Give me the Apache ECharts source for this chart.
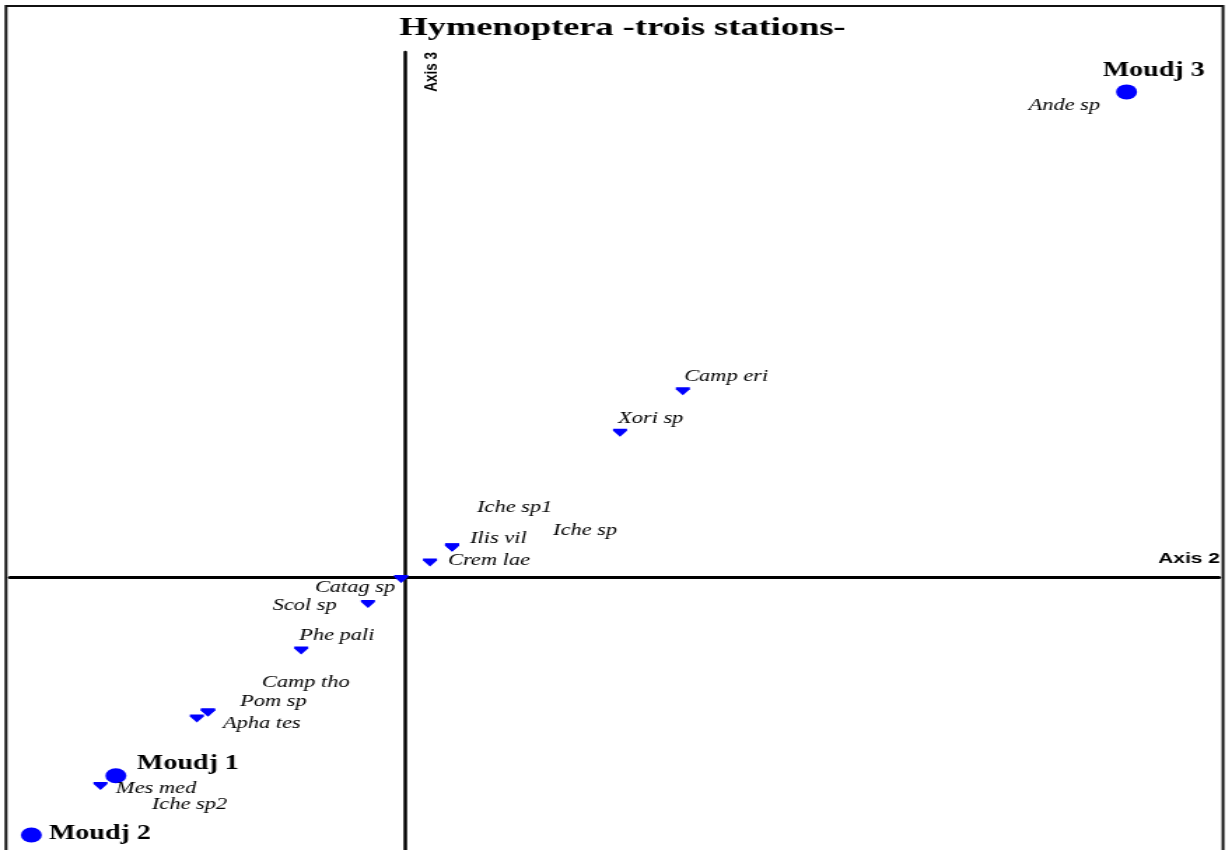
<!DOCTYPE html>
<html>
<head>
<meta charset="utf-8">
<title>Hymenoptera -trois stations-</title>
<script src="https://cdn.jsdelivr.net/npm/echarts@6/dist/echarts.min.js"></script>
<style>
  html, body { margin: 0; padding: 0; background: #fff; overflow: hidden; }
  /* The plot is laid out at 878px wide and stretched horizontally to fill the page */
  #chart {
    position: absolute; left: 0; top: 0;
    width: 878px; height: 850px;
    transform: scaleX(1.4); transform-origin: 0 0;
  }
</style>
</head>
<body>
<div id="chart"></div>
<script>
// Horizontal stretch applied to the whole plot
const STRETCH = 1.4;

// Species coordinates on axes 2 and 3
const speciesNames = ['Camp eri', 'Xori sp', 'Iche sp1', 'Iche sp', 'Ilis vil', 'Crem lae', 'Catag sp',
  'Scol sp', 'Phe pali', 'Camp tho', 'Pom sp', 'Apha tes', 'Mes med', 'Iche sp2', 'Ande sp'];
const speciesAxis2 = [0.703, 0.544, 0.119, 0.119, 0.119, 0.063, -0.010,
  -0.094, -0.263, -0.499, -0.499, -0.527, -0.771, -0.732, 1.826];
const speciesAxis3 = [0.471, 0.366, 0.076, 0.076, 0.076, 0.038, -0.004,
  -0.067, -0.185, -0.342, -0.342, -0.357, -0.528, -0.502, 1.228];

// Station coordinates on axes 2 and 3
const stationNames = ['Moudj 1', 'Moudj 2', 'Moudj 3'];
const stationAxis2 = [-0.732, -0.946, 1.826];
const stationAxis3 = [-0.502, -0.652, 1.229];

// Axis titles
const axisTitles = ['Axis 2', 'Axis 3'];

// Label placement around each point: [align, dx (page px), dy (px)]
const labelPlacement = {
  'Camp eri': ['left', 1.3, -14.5],
  'Xori sp': ['left', -2, -14.5],
  'Iche sp1': ['left', 25, -40],
  'Iche sp': ['left', 101, -17],
  'Ilis vil': ['left', 18, -8.5],
  'Crem lae': ['left', 18, -1.5],
  'Catag sp': ['right', -6, 9],
  'Scol sp': ['right', -31.3, 2],
  'Phe pali': ['left', -2, -14.5],
  'Camp tho': ['left', 54, -29.5],
  'Pom sp': ['left', 32, -11],
  'Apha tes': ['left', 26, 5],
  'Mes med': ['left', 15.5, 2.5],
  'Iche sp2': ['left', 36, 29],
  'Ande sp': ['right', -26.5, 14],
  'Moudj 1': ['left', 21, -12],
  'Moudj 2': ['left', 17.5, -1],
  'Moudj 3': ['left', -23.7, -21]
};

function buildPoints(names, xs, ys) {
  return names.map(function (n, i) {
    const p = labelPlacement[n];
    return {
      name: n,
      value: [xs[i], ys[i]],
      label: { align: p[0], offset: [p[1] / STRETCH, p[2]] }
    };
  });
}

const chart = echarts.init(document.getElementById('chart'), null, { renderer: 'canvas' });

chart.setOption({
  animation: false,
  backgroundColor: '#fff',
  title: {
    text: 'Hymenoptera -trois stations-',
    left: 622.5 / STRETCH,
    textAlign: 'center',
    top: 15,
    padding: 0,
    textStyle: { fontFamily: 'Liberation Serif', fontWeight: 'bold', fontSize: 26, color: '#000' }
  },
  grid: { left: 10 / STRETCH, right: 878 - 1219 / STRETCH, top: 52, bottom: 0 },
  xAxis: {
    type: 'value',
    min: -1,
    max: 2.06,
    axisLine: { onZero: true, lineStyle: { color: '#000', width: 3 } },
    axisTick: { show: false },
    axisLabel: { show: false },
    splitLine: { show: false }
  },
  yAxis: {
    type: 'value',
    min: -0.69,
    max: 1.33,
    axisLine: { onZero: true, lineStyle: { color: '#000', width: 2.5 } },
    axisTick: { show: false },
    axisLabel: { show: false },
    splitLine: { show: false }
  },
  graphic: [
    {
      type: 'rect',
      silent: true,
      shape: { x: 6 / STRETCH, y: 6, width: 1217 / STRETCH, height: 900 },
      style: { fill: 'none', stroke: '#111', lineWidth: 2 }
    },
    {
      type: 'text',
      silent: true,
      x: 1220 / STRETCH,
      y: 559,
      style: {
        text: axisTitles[0], fontFamily: 'Liberation Sans', fontWeight: 'bold', fontSize: 15,
        fill: '#000', align: 'right', verticalAlign: 'middle'
      }
    },
    {
      type: 'text',
      silent: true,
      x: 432 / STRETCH,
      y: 52,
      rotation: Math.PI / 2,
      style: {
        text: axisTitles[1], fontFamily: 'Liberation Sans', fontWeight: 'bold', fontSize: 13.5,
        fill: '#000', align: 'right', verticalAlign: 'middle'
      }
    }
  ],
  series: [
    {
      name: 'Espèces',
      type: 'scatter',
      silent: true,
      symbol: 'path://M0,0H10V2L5,8L0,2Z',
      symbolSize: [10, 8],
      itemStyle: { color: '#0000ff', opacity: 1 },
      label: {
        show: true, position: 'inside', verticalAlign: 'middle', formatter: '{b}',
        fontFamily: 'Liberation Serif', fontStyle: 'italic', fontSize: 16, color: '#000', opacity: 1
      },
      emphasis: { disabled: true },
      data: buildPoints(speciesNames, speciesAxis2, speciesAxis3)
    },
    {
      name: 'Stations',
      type: 'scatter',
      silent: true,
      symbol: 'circle',
      symbolSize: [15, 15],
      itemStyle: { color: '#0000ff', opacity: 1 },
      label: {
        show: true, position: 'inside', verticalAlign: 'middle', formatter: '{b}',
        fontFamily: 'Liberation Serif', fontWeight: 'bold', fontSize: 20, color: '#000', opacity: 1
      },
      emphasis: { disabled: true },
      data: buildPoints(stationNames, stationAxis2, stationAxis3)
    }
  ]
});
</script>
</body>
</html>
